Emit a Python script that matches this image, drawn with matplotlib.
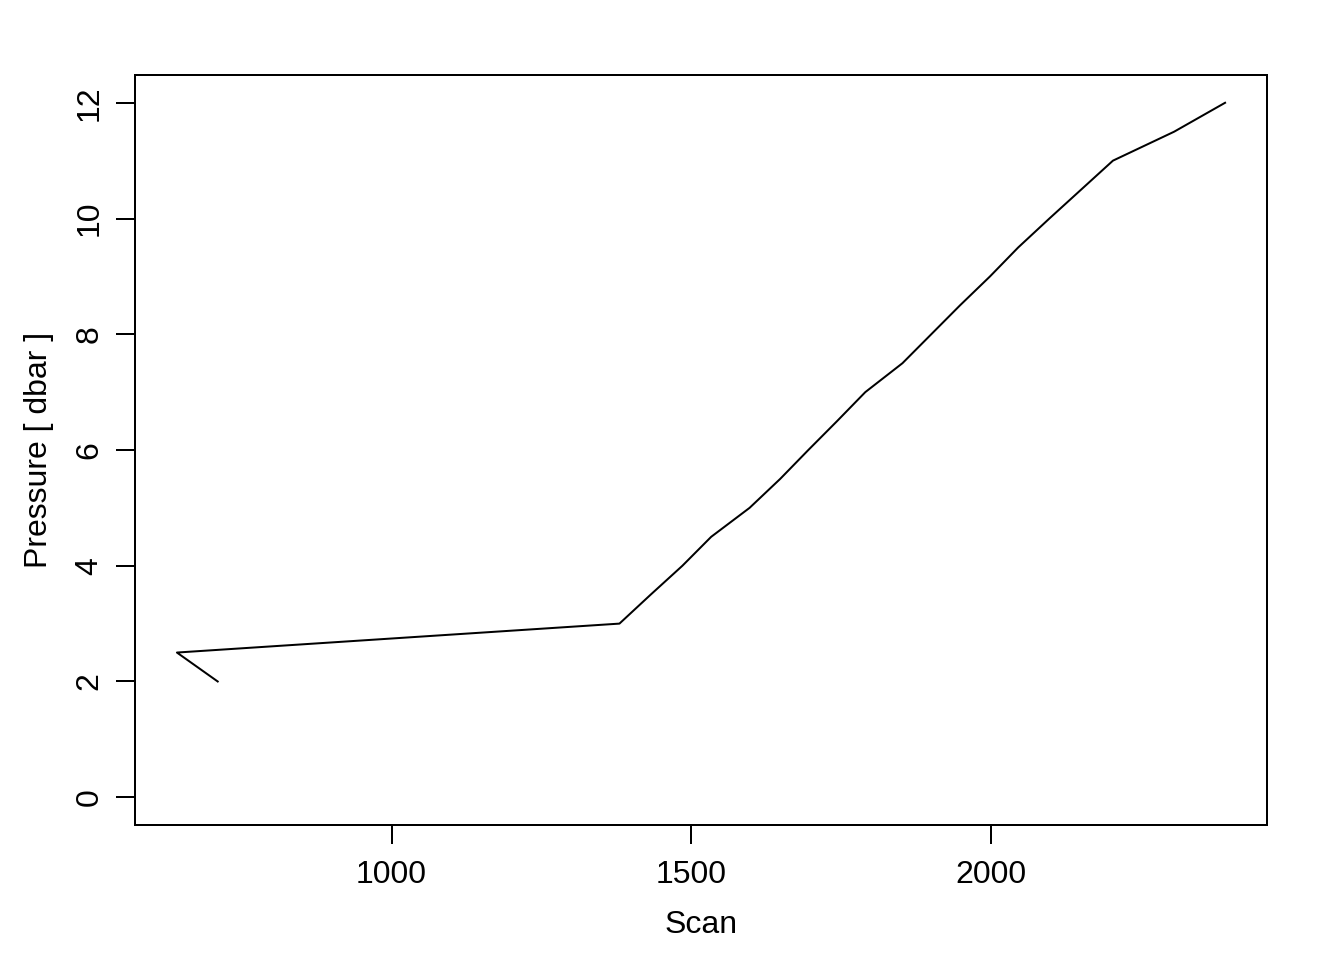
import matplotlib
matplotlib.use("Agg")
import matplotlib.pyplot as plt

# scan number vs pressure (dbar)
scan = [710, 642, 1380, 1432, 1485, 1533, 1597, 1648, 1695, 1743, 1790,
        1852, 1900, 1948, 1998, 2045, 2097, 2150, 2203, 2305, 2390]
pressure = [2.0, 2.5, 3.0, 3.5, 4.0, 4.5, 5.0, 5.5, 6.0, 6.5, 7.0,
            7.5, 8.0, 8.5, 9.0, 9.5, 10.0, 10.5, 11.0, 11.5, 12.0]
xticks = [1000, 1500, 2000]
yticks = [0, 2, 4, 6, 8, 10, 12]

plt.rcParams['font.family'] = ['Liberation Sans', 'DejaVu Sans']

fig = plt.figure(figsize=(13.44, 9.6), dpi=100)
ax = fig.add_axes([135 / 1344, 1 - 825 / 960, (1267 - 135) / 1344, (825 - 75) / 960])

ax.plot(scan, pressure, color='black', linewidth=1.44)

# R-style 4% padding around the data range
xr = max(scan) - min(scan)
ax.set_xlim(min(scan) - 0.04 * xr, max(scan) + 0.04 * xr)
ax.set_ylim(-0.48, 12.48)

ax.set_xticks(xticks)
ax.set_yticks(yticks)
ax.set_xticklabels([str(t) for t in xticks])
ax.set_yticklabels([str(t) for t in yticks], rotation=90, va='center')
ax.tick_params(direction='out', length=14, width=1.44, labelsize=23)
ax.tick_params(axis='x', pad=11.5)
ax.tick_params(axis='y', pad=8)

for s in ax.spines.values():
    s.set_linewidth(1.44)

ax.set_xlabel("Scan", fontsize=23, labelpad=14)
ax.set_ylabel("Pressure [ dbar ]", fontsize=23, labelpad=15)

fig.savefig("out.png", dpi=100)
